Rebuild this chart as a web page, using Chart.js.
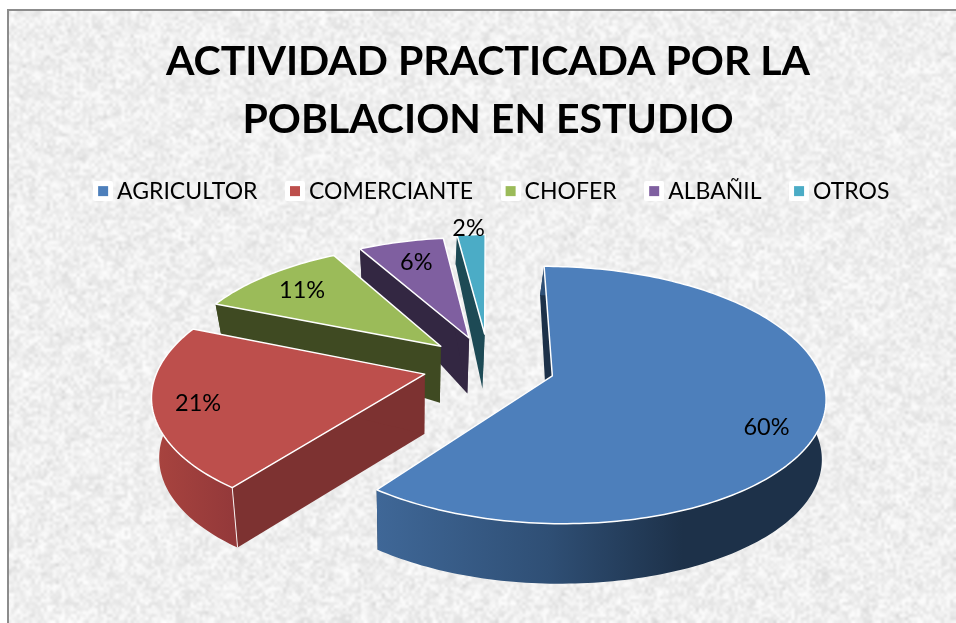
<!DOCTYPE html>
<html><head><meta charset="utf-8">
<style>html,body{margin:0;padding:0;background:#fff}canvas{display:block}</style>
<script src="https://cdn.jsdelivr.net/npm/chart.js@4"></script>
</head><body><canvas id="c" width="956" height="623"></canvas>
<script>
const titleLines = ['ACTIVIDAD PRACTICADA POR LA', 'POBLACION EN ESTUDIO'];
const categories = ['AGRICULTOR', 'COMERCIANTE', 'CHOFER', 'ALBAÑIL', 'OTROS'];
const values = [60.3, 20.9, 10.7, 6.1, 2.0];
const topColors = ['#4d7fbb', '#bd4f4c', '#9bbb59', '#7f5fa0', '#4bacc6'];
const cutColors = ['#1d3149', '#7d3231', '#3f4a22', '#332742', '#1d4a55'];
const wallLeft = ['#3f6797', '#a9443f', '#3f4a22', '#332742', '#1d4a55'];
const wallRight = ['#1d3149', '#94393a', '#3f4a22', '#332742', '#1d4a55'];
const explode = [66, 66, 66, 66, 72];
const labelNudge = [[5, 19], [-5, 1], [-6, -1], [0, -1], [-2, -2]];
const labelFrac = [0.78, 0.82, 0.75, 0.75, 1.05];

const CX = 489, CY = 366, K = 0.462, PERSP = 0.000555, RADIUS = 266;

function noiseLayer(w, h, sc, seed, amp, base) {
  const nw = Math.ceil(w / sc), nh = Math.ceil(h / sc);
  const off = document.createElement('canvas'); off.width = nw; off.height = nh;
  const o = off.getContext('2d'), img = o.createImageData(nw, nh);
  let s = seed;
  const rnd = () => (s = (s * 1664525 + 1013904223) >>> 0) / 4294967296;
  for (let i = 0; i < nw * nh; i++) {
    rnd();
    const v = base + (rnd() - 0.5) * amp - (rnd() > 0.97 ? 16 : 0);
    img.data[i * 4] = img.data[i * 4 + 1] = img.data[i * 4 + 2] = v;
    img.data[i * 4 + 3] = 255;
  }
  o.putImageData(img, 0, 0);
  return off;
}
const textureFine = noiseLayer(950, 615, 3, 12345, 36, 240);
const textureCoarse = noiseLayer(950, 615, 8, 777, 26, 238);

const backgroundPlugin = {
  id: 'paper',
  beforeDraw(chart) {
    const c = chart.ctx;
    c.save();
    c.fillStyle = '#fff'; c.fillRect(0, 0, 956, 623);
    c.imageSmoothingEnabled = true; c.imageSmoothingQuality = 'high';
    c.drawImage(textureFine, 8, 11, 948, 612);
    c.globalAlpha = 0.35;
    c.drawImage(textureCoarse, 8, 11, 948, 612);
    c.globalAlpha = 1;
    c.fillStyle = '#8c8c8c';
    c.fillRect(7, 9, 949, 2);
    c.fillRect(7, 9, 2, 614);
    c.restore();
  },
  afterLayout(chart) {
    chart.legend.left += 7; chart.legend.right += 7;
  }
};

function project(X, Y) {
  const f = 1 / (1 - PERSP * Y);
  return [CX + X * f, CY + K * Y * f];
}
function wallHeight(y) {
  const t = [[300, 29], [335, 55], [372, 60]];
  if (y <= t[0][0]) return t[0][1];
  if (y >= t[2][0]) return t[2][1];
  const i = y < t[1][0] ? 0 : 1;
  return t[i][1] + (t[i + 1][1] - t[i][1]) * (y - t[i][0]) / (t[i + 1][0] - t[i][0]);
}
function drop(p) {
  const dx = p[0] <= 552 ? (p[0] - 410) * -0.03 : -4.26;
  return [p[0] + dx, p[1] + wallHeight(p[1])];
}
function poly(c, pts) {
  c.beginPath();
  pts.forEach((p, i) => i ? c.lineTo(p[0], p[1]) : c.moveTo(p[0], p[1]));
}

const pie3d = {
  id: 'pie3d',
  beforeDatasetsDraw(chart) {
    const c = chart.ctx, meta = chart.getDatasetMeta(0);
    c.save();
    c.lineJoin = 'round';
    for (let i = meta.data.length - 1; i >= 0; i--) {
      const a = meta.data[i], o = a.options;
      const mid = (a.startAngle + a.endAngle) / 2, off = o.offset;
      const ox = off * Math.cos(mid), oy = off * Math.sin(mid), R = a.outerRadius;
      const arcPts = [];
      const n = Math.max(4, Math.ceil((a.endAngle - a.startAngle) / 0.02));
      for (let j = 0; j <= n; j++) {
        const t = a.startAngle + (a.endAngle - a.startAngle) * j / n;
        arcPts.push(project(ox + R * Math.cos(t), oy + R * Math.sin(t)));
      }
      const tip = project(ox, oy), low = arcPts.map(drop), tipLow = drop(tip);
      const first = arcPts[0], last = arcPts[n];

      // cut faces
      c.fillStyle = cutColors[i];
      poly(c, [tip, first, low[0], tipLow]); c.closePath(); c.fill();
      poly(c, [tip, last, low[n], tipLow]); c.closePath(); c.fill();

      // outer wall
      if (i === 0) {
        const gb = c.createLinearGradient(378, 0, 826, 0);
        gb.addColorStop(0, wallLeft[i]); gb.addColorStop(0.38, '#2f4f75');
        gb.addColorStop(0.68, wallRight[i]); gb.addColorStop(1, wallRight[i]);
        c.fillStyle = gb;
      } else {
        const xs = arcPts.map(p => p[0]);
        const g = c.createLinearGradient(Math.min(...xs), 0, Math.max(...xs), 0);
        g.addColorStop(0, wallLeft[i]); g.addColorStop(1, wallRight[i]);
        c.fillStyle = g;
      }
      poly(c, arcPts.concat(low.slice().reverse())); c.closePath(); c.fill();

      if (i === 1) {
        c.strokeStyle = 'rgba(255,255,255,0.9)'; c.lineWidth = 1;
        poly(c, [first, low[0]]); c.stroke();
      }

      // top
      c.fillStyle = o.backgroundColor;
      poly(c, [tip].concat(arcPts)); c.closePath(); c.fill();
      c.strokeStyle = o.borderColor; c.lineWidth = o.borderWidth;
      c.stroke();
    }
    // labels
    c.fillStyle = '#000';
    c.font = '23.5px Lato';
    c.textAlign = 'center'; c.textBaseline = 'middle';
    meta.data.forEach((a, i) => {
      const mid = (a.startAngle + a.endAngle) / 2, r = a.options.offset + a.outerRadius * labelFrac[i];
      const p = project(r * Math.cos(mid), r * Math.sin(mid));
      c.fillText(Math.round(values[i]) + '%', p[0] + labelNudge[i][0], p[1] + labelNudge[i][1]);
    });
    c.restore();
    return false;
  }
};

function markerTile(color) {
  const t = document.createElement('canvas'); t.width = 20; t.height = 20;
  const x = t.getContext('2d');
  x.fillStyle = '#fff';
  x.beginPath(); x.roundRect(0, 0, 20, 20, 2); x.fill();
  x.fillStyle = color; x.fillRect(5, 5, 10, 10);
  return t;
}
const tiles = topColors.map(markerTile);

new Chart(document.getElementById('c'), {
  type: 'pie',
  data: {
    labels: categories,
    datasets: [{
      data: values,
      backgroundColor: topColors,
      borderColor: '#ffffff',
      borderWidth: 1.5,
      offset: explode
    }]
  },
  plugins: [backgroundPlugin, pie3d],
  options: {
    responsive: false,
    animation: false,
    radius: RADIUS,
    layout: { padding: { left: 20, right: 0, top: 0, bottom: 100 } },
    plugins: {
      tooltip: { enabled: false },
      title: {
        display: true,
        text: titleLines,
        color: '#000',
        font: { family: 'Lato', size: 41, weight: 'bold', lineHeight: 1.41 },
        padding: { top: 33, bottom: -4 }
      },
      legend: {
        display: true,
        position: 'top',
        labels: {
          color: '#111',
          font: { family: 'Lato', size: 23 },
          usePointStyle: true,
          pointStyleWidth: 5,
          padding: 35,
          generateLabels(chart) {
            return categories.map((t, i) => ({
              text: t, fillStyle: topColors[i], strokeStyle: '#fff', lineWidth: 0,
              pointStyle: tiles[i], index: i, hidden: false
            }));
          }
        }
      }
    }
  }
});
</script></body></html>
